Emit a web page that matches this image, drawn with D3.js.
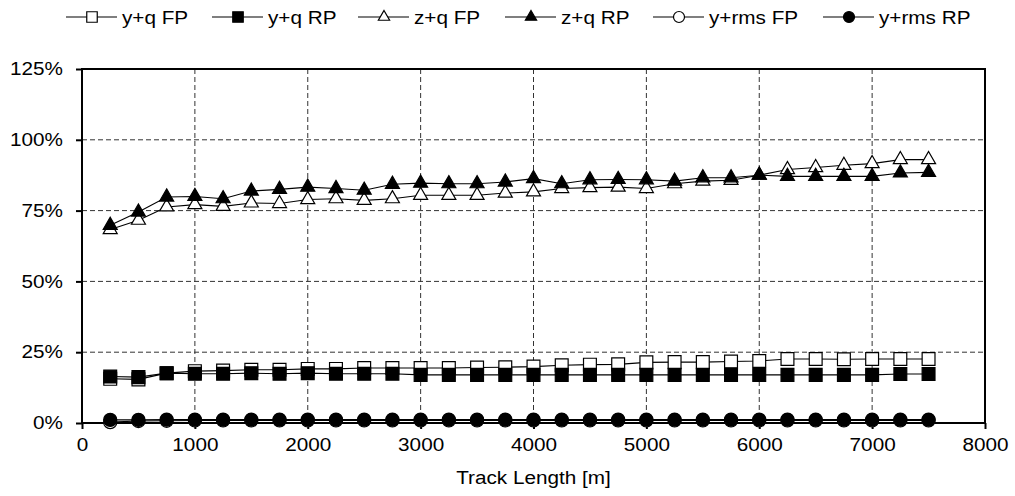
<!DOCTYPE html>
<html>
<head>
<meta charset="utf-8">
<script src="https://cdn.jsdelivr.net/npm/d3@7"></script>
<style>
  body { margin: 0; background: #fff; }
  svg { font-family: "Liberation Sans", Arial, sans-serif; }
</style>
</head>
<body>
<svg id="chart" width="1015" height="496"></svg>
<script>
const trackLength = [250, 500, 750, 1000, 1250, 1500, 1750, 2000, 2250, 2500,
  2750, 3000, 3250, 3500, 3750, 4000, 4250, 4500, 4750, 5000,
  5250, 5500, 5750, 6000, 6250, 6500, 6750, 7000, 7250, 7500];

const yqFP = [15.6, 15.4, 17.6, 18.3, 18.5, 18.8, 18.8, 19.1, 19.1, 19.4,
  19.4, 19.4, 19.4, 19.6, 19.7, 19.9, 20.4, 20.6, 20.7, 21.4,
  21.5, 21.5, 21.7, 21.9, 22.6, 22.6, 22.5, 22.6, 22.6, 22.6];
const yqRP = [16.4, 16.2, 17.6, 17.4, 17.4, 17.6, 17.4, 17.6, 17.4, 17.4,
  17.4, 17.0, 17.0, 17.0, 17.0, 17.0, 17.0, 17.0, 17.0, 17.0,
  17.0, 17.0, 17.0, 17.0, 17.0, 17.0, 17.0, 17.0, 17.3, 17.3];
const zqFP = [68.3, 71.6, 76.3, 77.1, 76.5, 77.7, 77.5, 78.9, 79.2, 78.6,
  79.2, 80.4, 80.4, 80.4, 81.2, 81.6, 82.8, 83.1, 83.3, 82.8,
  84.5, 85.4, 85.7, 87.5, 89.5, 90.2, 91.0, 91.6, 93.0, 93.0];
const zqRP = [69.8, 74.5, 79.8, 80.0, 79.2, 81.9, 82.5, 83.3, 82.8, 82.2,
  84.3, 84.7, 84.5, 84.5, 85.1, 86.3, 84.5, 85.9, 86.0, 85.9,
  85.4, 86.6, 86.6, 87.5, 87.1, 87.1, 87.1, 87.1, 88.3, 88.5];
const yrmsFP = [0.3, 0.7, 0.8, 0.9, 0.9, 0.9, 0.9, 0.9, 0.9, 0.9,
  0.9, 0.9, 0.9, 0.9, 0.9, 0.9, 0.9, 0.9, 0.9, 0.9,
  0.9, 0.9, 0.9, 0.9, 0.9, 0.9, 0.9, 0.9, 0.9, 0.9];
const yrmsRP = [1.1, 1.1, 1.2, 1.2, 1.2, 1.2, 1.2, 1.2, 1.2, 1.2,
  1.2, 1.2, 1.2, 1.2, 1.2, 1.2, 1.2, 1.2, 1.2, 1.2,
  1.2, 1.2, 1.2, 1.2, 1.2, 1.2, 1.2, 1.2, 1.2, 1.2];

const seriesNames = ['y+q FP', 'y+q RP', 'z+q FP', 'z+q RP', 'y+rms FP', 'y+rms RP'];
const seriesValues = [yqFP, yqRP, zqFP, zqRP, yrmsFP, yrmsRP];
const markerShapes = ['square', 'square', 'triangle', 'triangle', 'circle', 'circle'];
const markerFilled = [false, true, false, true, false, true];

const xTicks = [0, 1000, 2000, 3000, 4000, 5000, 6000, 7000, 8000];
const yTicks = [0, 25, 50, 75, 100, 125];

const margin = { top: 69, right: 30, bottom: 73, left: 82 };
const svgW = 1015, svgH = 496;
const width = svgW - margin.left - margin.right;
const height = svgH - margin.top - margin.bottom;
const fontSize = '18px';

const svg = d3.select('#chart');
const g = svg.append('g').attr('transform', `translate(${margin.left},${margin.top})`);

const x = d3.scaleLinear().domain([0, 8000]).range([0, width]);
const y = d3.scaleLinear().domain([0, 125]).range([height, 0]);

// the source text is a little wider than Arial: stretch it
function widen(sel) {
  sel.each(function() {
    const w = this.getComputedTextLength();
    d3.select(this).attr('textLength', w * 1.15).attr('lengthAdjust', 'spacingAndGlyphs');
  });
}

// dashed grid
g.append('g').selectAll('line')
  .data(yTicks.filter(d => d > 0 && d < 125))
  .enter().append('line')
  .attr('x1', 0).attr('x2', width)
  .attr('y1', d => y(d)).attr('y2', d => y(d))
  .style('stroke', '#333').style('stroke-width', 1).style('stroke-dasharray', '5,3');
g.append('g').selectAll('line')
  .data(xTicks.filter(d => d > 0 && d < 8000))
  .enter().append('line')
  .attr('y1', 0).attr('y2', height)
  .attr('x1', d => x(d)).attr('x2', d => x(d))
  .style('stroke', '#333').style('stroke-width', 1).style('stroke-dasharray', '5,3');

// axes
const xAxis = g.append('g').attr('transform', `translate(0,${height})`)
  .call(d3.axisBottom(x).tickValues(xTicks).tickFormat(d3.format('d')).tickSize(6).tickSizeOuter(0).tickPadding(9));
const yAxis = g.append('g')
  .call(d3.axisLeft(y).tickValues(yTicks).tickFormat(d => d + '%').tickSize(6).tickSizeOuter(0).tickPadding(13));
[xAxis, yAxis].forEach(a => {
  a.select('.domain').remove();
  a.selectAll('line').style('stroke', '#000').style('stroke-width', 2);
  a.selectAll('text').style('font-size', fontSize).style('fill', '#000').call(widen);
});

// plot frame
g.append('rect')
  .attr('x', 0).attr('y', 0).attr('width', width).attr('height', height)
  .style('fill', 'none').style('stroke', '#000').style('stroke-width', 2);

const symbolTypes = { square: d3.symbolSquare, triangle: d3.symbolTriangle, circle: d3.symbolCircle };
const symbolSizes = { square: 165, triangle: 85, circle: 135 };

function drawMarker(sel, i, size) {
  sel.append('path')
    .attr('d', d3.symbol().type(symbolTypes[markerShapes[i]]).size(size))
    .style('fill', markerFilled[i] ? '#000' : '#fff')
    .style('stroke', '#000')
    .style('stroke-width', 1.2);
}

const line = d3.line();
seriesValues.forEach((vals, i) => {
  const pts = trackLength.map((t, j) => [x(t), y(vals[j])]);
  g.append('path')
    .attr('d', line(pts))
    .style('fill', 'none')
    .style('stroke', '#000')
    .style('stroke-width', 1.1);
  pts.forEach(p => {
    const m = g.append('g').attr('transform', `translate(${p[0]},${p[1]})`);
    drawMarker(m, i, symbolSizes[markerShapes[i]]);
  });
});

// x title
svg.append('text')
  .attr('x', margin.left + width / 2)
  .attr('y', 484)
  .attr('text-anchor', 'middle')
  .style('font-size', fontSize)
  .text('Track Length [m]')
  .call(widen);

// legend
const legendX = [66, 212, 358, 505, 653, 823];
const legendSizes = { square: 110, triangle: 55, circle: 95 };
const legend = svg.append('g').attr('transform', 'translate(0,17)');
seriesNames.forEach((name, i) => {
  const item = legend.append('g').attr('transform', `translate(${legendX[i]},0)`);
  item.append('line')
    .attr('x1', 0).attr('x2', 51).attr('y1', 0).attr('y2', 0)
    .style('stroke', '#000').style('stroke-width', 1.1);
  const m = item.append('g').attr('transform', 'translate(26,0)');
  drawMarker(m, i, legendSizes[markerShapes[i]]);
  item.append('text')
    .attr('x', 56).attr('y', 6.5)
    .style('font-size', fontSize)
    .text(name)
    .call(widen);
});
</script>
</body>
</html>
